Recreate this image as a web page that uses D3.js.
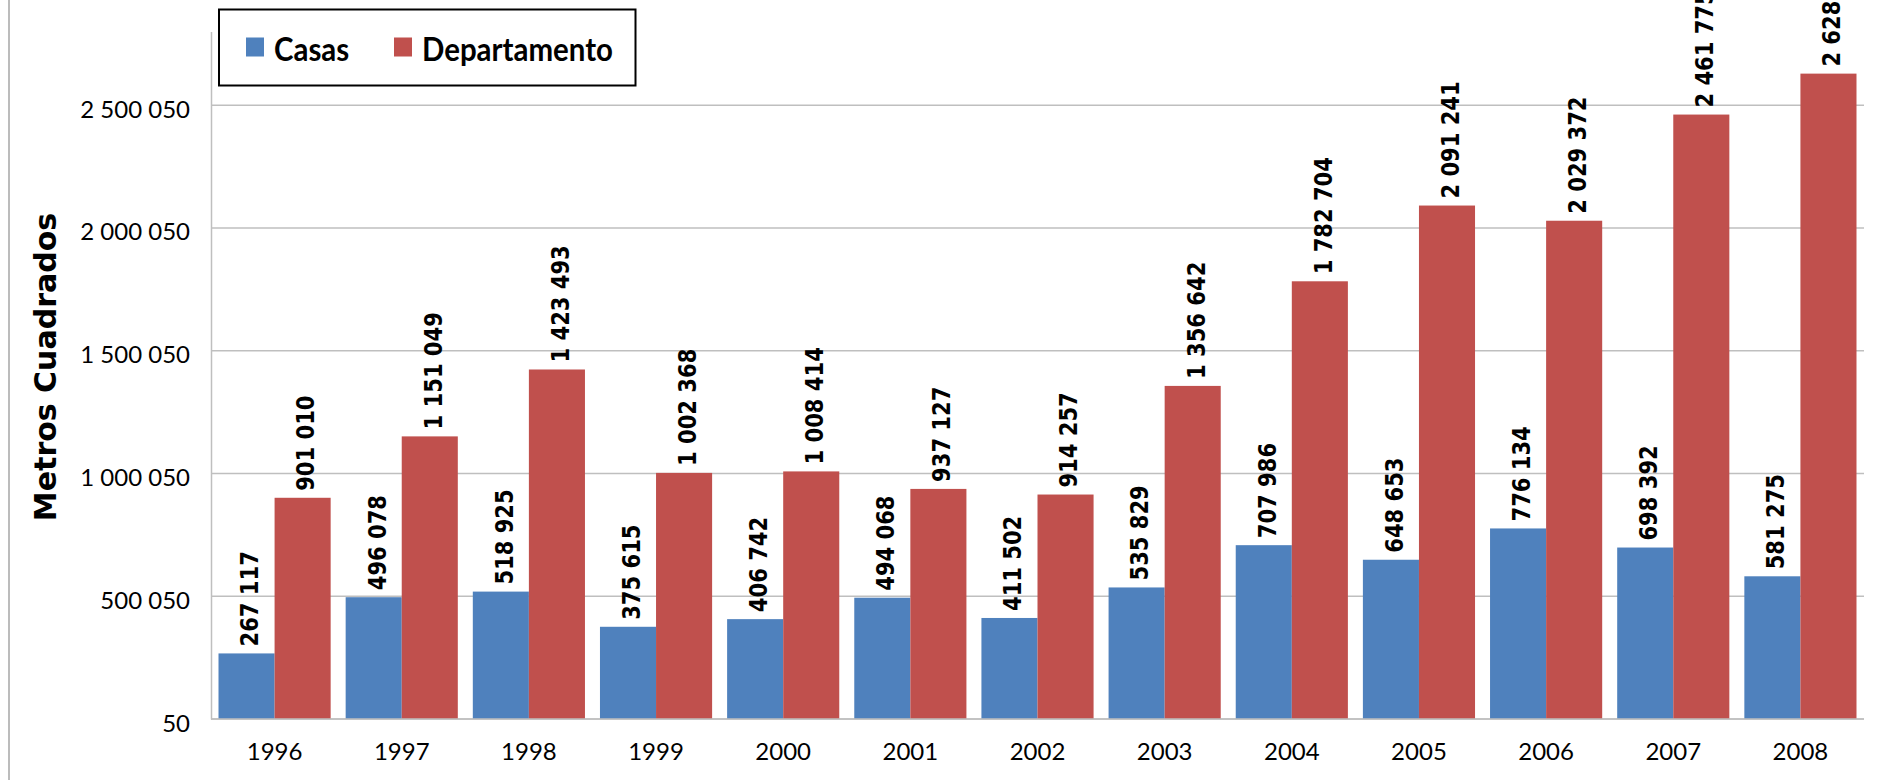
<!DOCTYPE html>
<html lang="es">
<head>
<meta charset="utf-8">
<script src="https://d3js.org/d3.v7.min.js"></script>
<style>
  body { margin: 0; background: #fff; }
  svg { display: block; }
  .tick text { font-family: Lato, sans-serif; font-size: 24px; fill: #000; }
  .label { font-family: "DejaVu Sans", sans-serif; font-weight: bold; font-size: 24.5px; fill: #000; }
  .legend text { font-family: Lato, sans-serif; font-weight: bold; font-size: 32px; fill: #000; }
</style>
</head>
<body>
<svg id="chart"></svg>
<script>
// Data
var years = ["1996", "1997", "1998", "1999", "2000", "2001", "2002",
             "2003", "2004", "2005", "2006", "2007", "2008"];
var casas = [267117, 496078, 518925, 375615, 406742, 494068, 411502,
             535829, 707986, 648653, 776134, 698392, 581275];
var departamento = [901010, 1151049, 1423493, 1002368, 1008414, 937127, 914257,
                    1356642, 1782704, 2091241, 2029372, 2461775, 2628500];
var seriesNames = ["Casas", "Departamento"];
var seriesColors = ["#4f81bd", "#c0504d"];
var yTicks = [50, 500050, 1000050, 1500050, 2000050, 2500050];

var width = 1883, height = 780;
var margin = { left: 211, right: 19, top: 31.5, bottom: 61 };

var svg = d3.select("#chart").attr("width", width).attr("height", height);

// outer frame line on the left
svg.append("line")
    .attr("x1", 9).attr("x2", 9).attr("y1", 0).attr("y2", height)
    .attr("stroke", "#a6a6a6").attr("stroke-width", 1.5);

var x = d3.scaleBand()
    .domain(years)
    .range([margin.left, width - margin.right])
    .paddingInner(0.118)
    .paddingOuter(0.059);

var x1 = d3.scaleBand()
    .domain(seriesNames)
    .range([0, x.bandwidth()]);

var y = d3.scaleLinear()
    .domain([50, 2800050])
    .range([height - margin.bottom, margin.top]);

// gridlines
svg.append("g")
    .selectAll("line")
    .data(yTicks)
    .enter().append("line")
    .attr("x1", margin.left).attr("x2", width - margin.right)
    .attr("y1", function(d) { return y(d); })
    .attr("y2", function(d) { return y(d); })
    .attr("stroke", "#bfbfbf").attr("stroke-width", 1.5);

// y axis
var fmt = function(d) { return d3.format(",")(d).replace(/,/g, " "); };
var yAxis = svg.append("g")
    .attr("transform", "translate(" + margin.left + ",0)")
    .call(d3.axisLeft(y).tickValues(yTicks).tickFormat(fmt).tickSize(0).tickPadding(21));
yAxis.select(".domain").attr("stroke", "#bfbfbf").attr("stroke-width", 1.5);
yAxis.selectAll(".tick text").attr("dy", "0.5em");

// x axis
var xAxis = svg.append("g")
    .attr("transform", "translate(0," + (height - margin.bottom) + ")")
    .call(d3.axisBottom(x).tickSize(0).tickPadding(34));
xAxis.select(".domain").remove();
xAxis.selectAll(".tick text").attr("dy", "0.3em");

// bars
var rows = years.map(function(yr, i) {
    return { year: yr, values: [casas[i], departamento[i]] };
});

var groups = svg.append("g").selectAll("g")
    .data(rows)
    .enter().append("g")
    .attr("transform", function(d) { return "translate(" + x(d.year) + ",0)"; });

groups.selectAll("rect")
    .data(function(d) { return d.values.map(function(v, j) { return { v: v, s: j }; }); })
    .enter().append("rect")
    .attr("x", function(d) { return x1(seriesNames[d.s]); })
    .attr("width", x1.bandwidth())
    .attr("y", function(d) { return y(d.v); })
    .attr("height", function(d) { return y(50) - y(d.v); })
    .attr("fill", function(d) { return seriesColors[d.s]; });

// baseline redraw on top of bars
svg.append("line")
    .attr("x1", margin.left).attr("x2", width - margin.right)
    .attr("y1", y(50)).attr("y2", y(50))
    .attr("stroke", "#bfbfbf").attr("stroke-width", 1.5);

// value labels (rotated)
groups.selectAll("text.label")
    .data(function(d) { return d.values.map(function(v, j) { return { v: v, s: j }; }); })
    .enter().append("text")
    .attr("class", "label")
    .attr("transform", function(d) {
        var cx = x1(seriesNames[d.s]) + x1.bandwidth() / 2 + 3;
        return "translate(" + cx + "," + (y(d.v) - 7) + ") rotate(-90) scale(0.86,1)";
    })
    .attr("dy", "0.36em")
    .text(function(d) { return fmt(d.v); });

// y axis title
svg.append("text")
    .attr("transform", "translate(45,367) rotate(-90)")
    .attr("text-anchor", "middle")
    .attr("dy", "0.36em")
    .style("font-family", "'DejaVu Sans', sans-serif")
    .style("font-weight", "bold")
    .style("font-size", "30px")
    .text("Metros Cuadrados");

// legend
var legend = svg.append("g").attr("class", "legend");
legend.append("rect")
    .attr("x", 219).attr("y", 9.5).attr("width", 416.5).attr("height", 76)
    .attr("fill", "#fff").attr("stroke", "#000").attr("stroke-width", 2);

var legendX = [246, 394];
var items = legend.selectAll("g.item")
    .data(seriesNames)
    .enter().append("g")
    .attr("class", "item")
    .attr("transform", function(d, i) { return "translate(" + legendX[i] + ",0)"; });
items.append("rect")
    .attr("x", 0).attr("y", 37.5).attr("width", 18).attr("height", 19)
    .attr("fill", function(d, i) { return seriesColors[i]; });
items.append("text")
    .attr("transform", "translate(28,60.5) scale(0.92,1)")
    .text(function(d) { return d; });
</script>
</body>
</html>
